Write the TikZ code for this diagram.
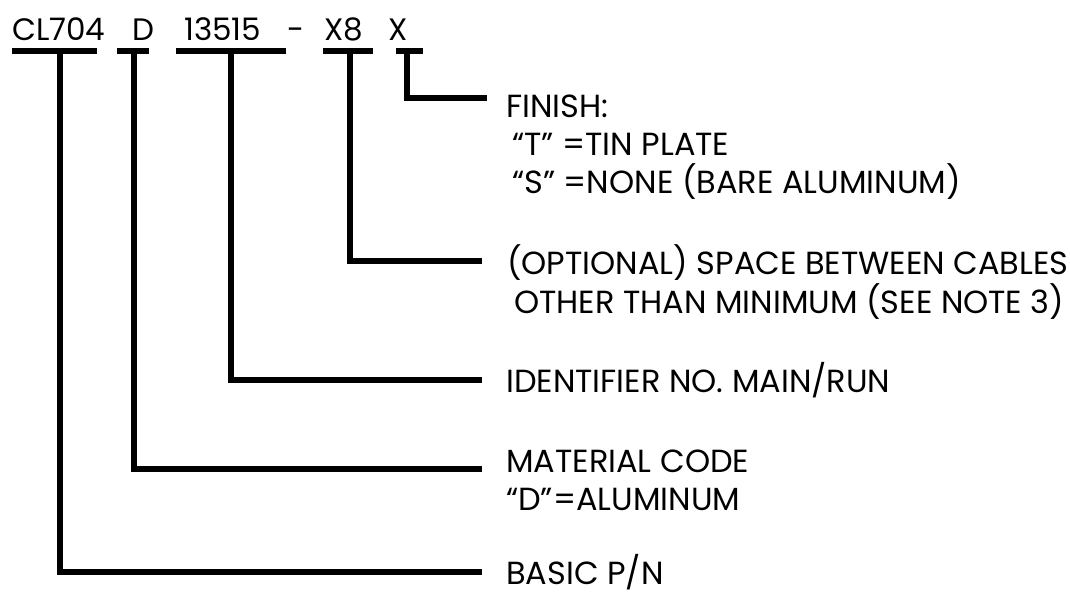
\documentclass[tikz,border=0pt]{standalone}
\usepackage{fontspec}
\setmainfont{Poppins}
\begin{document}
\begin{tikzpicture}[x=1pt,y=-1pt,
  txt/.style={anchor=base west, inner sep=0pt, font=\fontsize{32}{38}\selectfont},
  code/.style={anchor=base west, inner sep=0pt, font=\fontsize{31}{36}\selectfont},
  conn/.style={line width=5.5pt, line join=miter},
  bar/.style={line width=5.5pt}]
\useasboundingbox (0,0) rectangle (1070,595);
% part number code
\node[code] (cl) at (12,40.7) {CL704};
\node[code] (d) at (132,40.7) {D};
\node[code] (num) at (184,40.7) {13515};
\node[code] (dash) at (287,40.7) {-};
\node[code] (x8) at (324,40.7) {X8};
\node[code] (x) at (388,40.7) {X};
% underline bars
\draw[bar] (12,51) -- (97,51);
\draw[bar] (117,51) -- (149,51);
\draw[bar] (176,51) -- (286,51);
\draw[bar] (323,51) -- (373,51);
\draw[bar] (396,51) -- (423,51);
\coordinate (bcl) at (60,51);
\coordinate (bd) at (134,51);
\coordinate (bnum) at (231,51);
\coordinate (bx8) at (350,51);
\coordinate (bx) at (407,51);
% labels
\node[txt] (fin1) at (506,117) {FINISH:};
\node[txt] (fin2) at (512,155) {“T” =TIN PLATE};
\node[txt] (fin3) at (512,193) {“S” =NONE (BARE ALUMINUM)};
\node[txt] (sp1) at (507,274) {(OPTIONAL) SPACE BETWEEN CABLES};
\node[txt] (sp2) at (514,313) {OTHER THAN MINIMUM (SEE NOTE 3)};
\node[txt] (id) at (506,392) {IDENTIFIER NO. MAIN/RUN};
\node[txt] (mat1) at (506,472) {MATERIAL CODE};
\node[txt] (mat2) at (506,510) {“D”=ALUMINUM};
\node[txt] (basic) at (506,584) {BASIC P/N};
% connector ends
\coordinate (ex) at (487,98);
\coordinate (ex8) at (482,261);
\coordinate (enum) at (482,380);
\coordinate (ed) at (482,469);
\coordinate (ecl) at (482,572);
\draw[conn] (bx) |- (ex);
\draw[conn] (bx8) |- (ex8);
\draw[conn] (bnum) |- (enum);
\draw[conn] (bd) |- (ed);
\draw[conn] (bcl) |- (ecl);
\end{tikzpicture}
\end{document}
